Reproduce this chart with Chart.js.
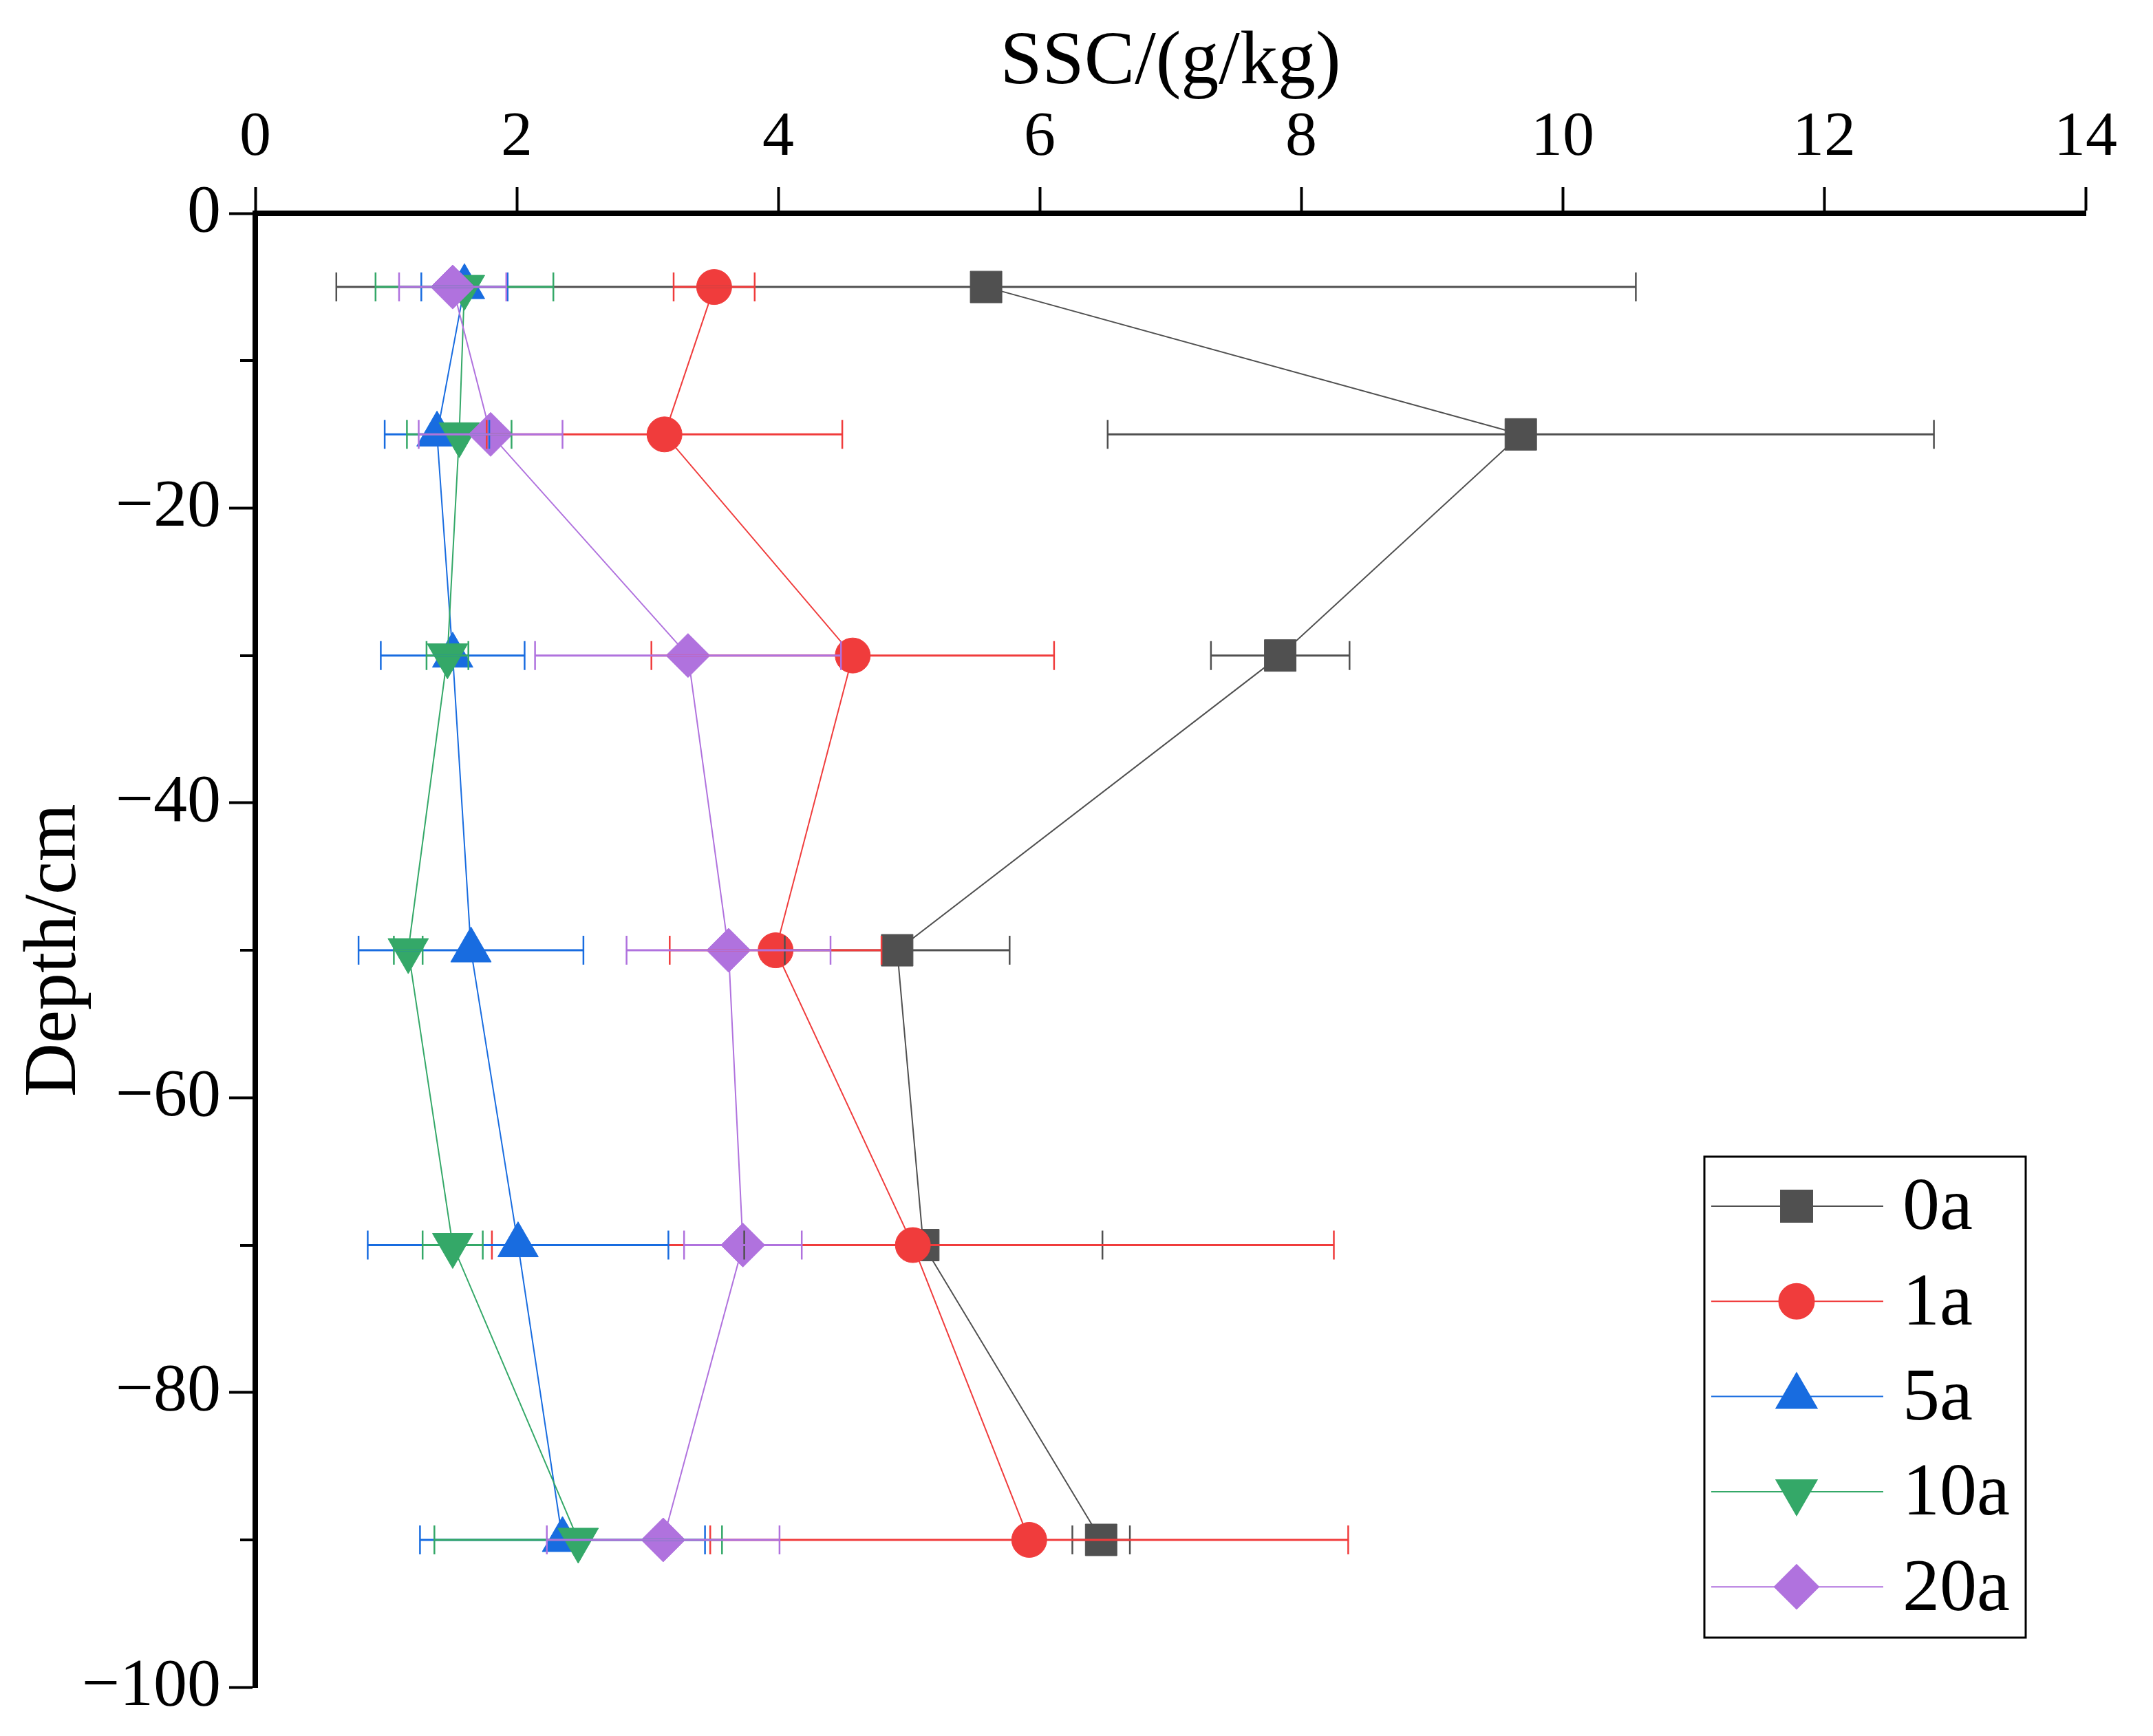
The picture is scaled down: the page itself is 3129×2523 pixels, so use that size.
<!DOCTYPE html>
<html>
<head>
<meta charset="utf-8">
<script src="https://cdn.jsdelivr.net/npm/chart.js@4.4.1/dist/chart.umd.min.js"></script>
<style>
  html, body { margin: 0; padding: 0; background: #fff; }
  canvas { display: block; }
</style>
</head>
<body>
<canvas id="ssc-depth" width="3129" height="2523"></canvas>
<script>
// depth of each sampling layer (cm, negative = below surface)
const depths = [-5, -15, -30, -50, -70, -90]
const seriesNames = ['0a', '1a', '5a', '10a', '20a']

// mean SSC (g/kg) and its error for each series
const ssc0a = [5.59, 9.68, 7.84, 4.91, 5.11, 6.47]
const err0a = [4.97, 3.16, 0.53, 0.86, 1.37, 0.22]
const ssc1a = [3.51, 3.13, 4.57, 3.98, 5.03, 5.92]
const err1a = [0.31, 1.36, 1.54, 0.81, 3.22, 2.44]
const ssc5a = [1.60, 1.39, 1.51, 1.65, 2.01, 2.35]
const err5a = [0.33, 0.40, 0.55, 0.86, 1.15, 1.09]
const ssc10a = [1.60, 1.56, 1.47, 1.17, 1.51, 2.47]
const err10a = [0.68, 0.40, 0.16, 0.11, 0.23, 1.10]
const ssc20a = [1.51, 1.80, 3.31, 3.62, 3.73, 3.12]
const err20a = [0.41, 0.55, 1.17, 0.78, 0.45, 0.89]

// tick values
const xTickValues = [0, 2, 4, 6, 8, 10, 12, 14]
const yMajorTicks = [0, -20, -40, -60, -80, -100]
const yMinorTicks = [-10, -30, -50, -70, -90]

const values = [ssc0a, ssc1a, ssc5a, ssc10a, ssc20a]
const errors = [err0a, err1a, err5a, err10a, err20a]

// look of each series
const colors = ['rgb(80,80,80)', 'rgb(240,60,60)', 'rgb(24,108,224)', 'rgb(52,168,104)', 'rgb(176,114,222)']
const markers = ['rect', 'circle', 'triangle', 'triangle', 'rectRot']
const markerRadius = [32.5, 25.5, 34, 34, 32]
const markerRotation = [0, 0, 0, 180, 0]

const FONT = "'Liberation Serif', Tinos, 'Times New Roman', Times, 'DejaVu Serif', serif"

const datasets = seriesNames.map((name, i) => ({
  label: name,
  data: depths.map((d, j) => ({ x: values[i][j], y: d })),
  errors: errors[i],
  borderColor: colors[i],
  backgroundColor: colors[i],
  borderWidth: 2,
  pointStyle: markers[i],
  pointRadius: markerRadius[i],
  pointRotation: markerRotation[i],
  pointBorderWidth: 1,
  pointBackgroundColor: colors[i],
  pointBorderColor: colors[i],
  order: seriesNames.length - i,
  clip: false
}))

// horizontal error bars, drawn over the markers like the original
const errorBars = {
  id: 'errorBars',
  afterDatasetsDraw(chart) {
    const { ctx, scales: { x, y } } = chart
    chart.data.datasets.forEach(ds => {
      ctx.save()
      ctx.strokeStyle = ds.borderColor
      ds.data.forEach((p, j) => {
        const e = ds.errors[j]
        const x1 = x.getPixelForValue(p.x - e)
        const x2 = x.getPixelForValue(p.x + e)
        const py = y.getPixelForValue(p.y)
        ctx.lineWidth = 3
        ctx.beginPath()
        ctx.moveTo(x1, py)
        ctx.lineTo(x2, py)
        ctx.stroke()
        ctx.lineWidth = 2.5
        ctx.beginPath()
        ctx.moveTo(x1, py - 21)
        ctx.lineTo(x1, py + 21)
        ctx.moveTo(x2, py - 21)
        ctx.lineTo(x2, py + 21)
        ctx.stroke()
      })
      ctx.restore()
    })
  }
}

// short minor ticks on the depth axis
const minorTicks = {
  id: 'minorTicks',
  afterDraw(chart) {
    const { ctx, chartArea, scales: { y } } = chart
    ctx.save()
    ctx.strokeStyle = '#000'
    ctx.lineWidth = 4
    yMinorTicks.forEach(v => {
      const py = Math.round(y.getPixelForValue(v))
      ctx.beginPath()
      ctx.moveTo(chartArea.left - 22, py)
      ctx.lineTo(chartArea.left, py)
      ctx.stroke()
    })
    ctx.restore()
  }
}

// boxed legend, line + marker + label like Origin
const boxLegend = {
  id: 'boxLegend',
  afterDraw(chart) {
    const { ctx } = chart
    const box = { left: 2477, top: 1681, width: 467, height: 699 }
    ctx.save()
    ctx.fillStyle = '#fff'
    ctx.fillRect(box.left, box.top, box.width, box.height)
    ctx.strokeStyle = '#000'
    ctx.lineWidth = 3
    ctx.strokeRect(box.left, box.top, box.width, box.height)
    chart.data.datasets.forEach((ds, i) => {
      const cy = 1753 + i * 138.3
      ctx.strokeStyle = ds.borderColor
      ctx.lineWidth = 2
      ctx.beginPath()
      ctx.moveTo(2487, cy)
      ctx.lineTo(2737, cy)
      ctx.stroke()
      ctx.fillStyle = ds.backgroundColor
      Chart.helpers.drawPoint(ctx, {
        pointStyle: ds.pointStyle,
        radius: ds.pointRadius,
        rotation: ds.pointRotation,
        borderWidth: 1
      }, 2611, cy)
      ctx.fill()
      ctx.fillStyle = '#000'
      ctx.font = '108px ' + FONT
      ctx.textAlign = 'left'
      ctx.textBaseline = 'middle'
      ctx.fillText(ds.label, 2765, cy + 5)
    })
    ctx.restore()
  }
}

new Chart(document.getElementById('ssc-depth'), {
  type: 'line',
  data: { datasets },
  plugins: [errorBars, minorTicks, boxLegend],
  options: {
    responsive: false,
    animation: false,
    devicePixelRatio: 1,
    layout: { padding: { top: 0, left: 0, right: 98, bottom: 67 } },
    plugins: { legend: { display: false }, tooltip: { enabled: false } },
    scales: {
      x: {
        type: 'linear',
        position: 'top',
        min: 0,
        max: 14,
        afterBuildTicks: s => { s.ticks = xTickValues.map(v => ({ value: v })) },
        afterFit: s => { s.height = 310 },
        border: { display: true, color: '#000', width: 8 },
        grid: { drawOnChartArea: false, tickLength: 38, tickWidth: 4, tickColor: '#000' },
        ticks: { autoSkip: false, maxRotation: 0, padding: 16, color: '#000', font: { family: FONT, size: 92 } },
        title: { display: true, text: 'SSC/(g/kg)', color: '#000', padding: { top: 26, bottom: 0 }, font: { family: FONT, size: 110 } }
      },
      y: {
        type: 'linear',
        position: 'left',
        min: -100,
        max: 0,
        afterBuildTicks: s => { s.ticks = yMajorTicks.slice().sort((a, b) => a - b).map(v => ({ value: v })) },
        afterFit: s => { s.width = 371 },
        border: { display: true, color: '#000', width: 8 },
        grid: { drawOnChartArea: false, tickLength: 38, tickWidth: 4, tickColor: '#000' },
        ticks: {
          autoSkip: false,
          padding: 12,
          color: '#000',
          font: { family: FONT, size: 98 },
          callback: v => (v < 0 ? '\u2212' + Math.abs(v) : String(v))
        },
        title: { display: true, text: 'Depth/cm', color: '#000', padding: { top: 16, bottom: 0 }, font: { family: FONT, size: 108 } }
      }
    }
  }
})
</script>
</body>
</html>
